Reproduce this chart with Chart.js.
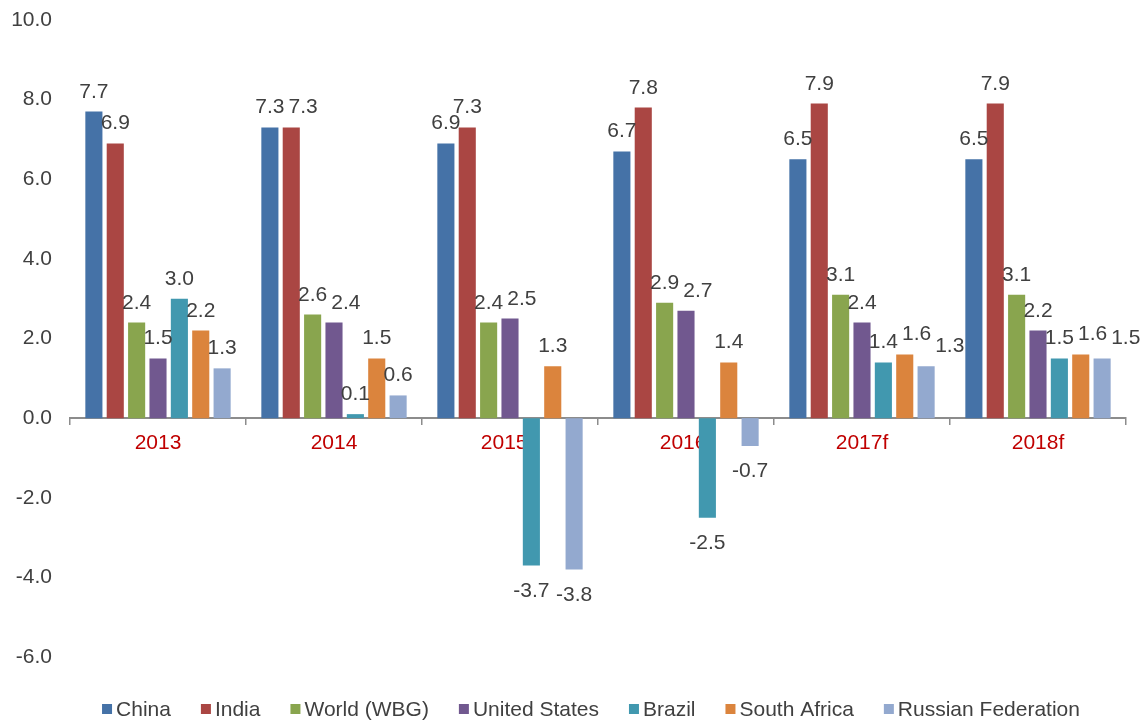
<!DOCTYPE html>
<html>
<head>
<meta charset="utf-8">
<script src="https://cdn.jsdelivr.net/npm/chart.js@4"></script>
<style>
html,body{margin:0;padding:0;background:#fff;}
#wrap{width:1145px;height:721px;position:relative;}
</style>
</head>
<body>
<div id="wrap"><canvas id="c" width="1145" height="721"></canvas></div>
<script>
const categories = ["2013", "2014", "2015e", "2016f", "2017f", "2018f"];
const seriesNames = ["China", "India", "World (WBG)", "United States", "Brazil", "South Africa", "Russian Federation"];
const china = [7.7, 7.3, 6.9, 6.7, 6.5, 6.5];
const india = [6.9, 7.3, 7.3, 7.8, 7.9, 7.9];
const world = [2.4, 2.6, 2.4, 2.9, 3.1, 3.1];
const unitedStates = [1.5, 2.4, 2.5, 2.7, 2.4, 2.2];
const brazil = [3.0, 0.1, -3.7, -2.5, 1.4, 1.5];
const southAfrica = [2.2, 1.5, 1.3, 1.4, 1.6, 1.6];
const russia = [1.25, 0.57, -3.8, -0.7, 1.3, 1.5];
const yTicks = [-6, -4, -2, 0, 2, 4, 6, 8, 10];

const colors = ["#4572A7", "#AA4643", "#89A54E", "#71588F", "#4198AF", "#DB843D", "#93A9CF"];
const values = [china, india, world, unitedStates, brazil, southAfrica, russia];

const FONT = "'Liberation Sans', Arial, sans-serif";
const FSIZE = 21;
const TEXT = "#404040";

const labelPlugin = {
  id: 'valueLabels',
  afterDatasetsDraw(chart) {
    const ctx = chart.ctx;
    ctx.save();
    ctx.font = FSIZE + "px " + FONT;
    ctx.fillStyle = TEXT;
    ctx.textAlign = "center";
    ctx.textBaseline = "alphabetic";
    const cap = FSIZE * 0.72;
    const nCat = chart.data.labels.length;
    for (let j = 0; j < nCat; j++) {
      const placed = [];
      chart.data.datasets.forEach((ds, i) => {
        const bar = chart.getDatasetMeta(i).data[j];
        const v = ds.data[j];
        const txt = v.toFixed(1);
        const w = ctx.measureText(txt).width;
        let x = bar.x;
        const base = v >= 0 ? bar.y - 14 : bar.y + 16 + cap;
        let moved = true, guard = 0;
        while (moved && guard < 20) {
          moved = false; guard++;
          for (const b of placed) {
            const l = x - w / 2, r = x + w / 2, t = base - cap, btm = base;
            if (l < b.r && r > b.l && t < b.b && btm > b.t) {
              x = b.r + 4 + w / 2;
              moved = true;
            }
          }
        }
        placed.push({ l: x - w / 2, r: x + w / 2, t: base - cap, b: base });
        ctx.fillText(txt, x, base);
      });
    }
    ctx.restore();
  }
};

const legendPlugin = {
  id: 'bottomLegend',
  afterDraw(chart) {
    const ctx = chart.ctx;
    ctx.save();
    ctx.font = FSIZE + "px " + FONT;
    ctx.textBaseline = "middle";
    ctx.textAlign = "left";
    const box = 10, gapBox = 4, gapItem = 30;
    const items = chart.data.datasets.map(ds => ({
      label: ds.label, color: ds.backgroundColor, w: ctx.measureText(ds.label).width
    }));
    const total = items.reduce((s, it) => s + box + gapBox + it.w, 0) + gapItem * (items.length - 1);
    const cy = 710;
    let x = 591 - total / 2;
    items.forEach(it => {
      ctx.fillStyle = it.color;
      ctx.fillRect(x, cy - 6, box, box);
      ctx.fillStyle = TEXT;
      ctx.fillText(it.label, x + box + gapBox, cy);
      x += box + gapBox + it.w + gapItem;
    });
    ctx.restore();
  }
};

new Chart(document.getElementById('c'), {
  type: 'bar',
  data: {
    labels: categories,
    datasets: seriesNames.map((n, i) => ({
      label: n,
      data: values[i],
      backgroundColor: colors[i],
      borderWidth: 0,
      barPercentage: 0.8,
      categoryPercentage: 0.85
    }))
  },
  options: {
    responsive: false,
    animation: false,
    devicePixelRatio: 1,
    layout: { padding: { top: 20, right: 19, left: 0, bottom: 64 } },
    plugins: {
      legend: { display: false },
      tooltip: { enabled: false }
    },
    scales: {
      x: {
        position: { y: 0 },
        afterFit(scale) { scale.paddingLeft = 0; scale.paddingRight = 0; scale.paddingTop = 0; scale.paddingBottom = 0; },
        grid: {
          display: true,
          drawOnChartArea: false,
          drawTicks: true,
          tickLength: 6,
          offset: true,
          color: "#8C8C8C",
          lineWidth: 1.5
        },
        border: { display: true, color: "#8C8C8C", width: 2 },
        ticks: {
          color: "#C00000",
          font: { family: FONT, size: FSIZE },
          padding: 6
        }
      },
      y: {
        min: -6,
        max: 10,
        afterBuildTicks(scale) {
          scale.ticks = yTicks.map(v => ({ value: v }));
        },
        afterFit(scale) { scale.width = 70; scale.paddingTop = 0; scale.paddingBottom = 0; },
        grid: { display: false, drawTicks: false },
        border: { display: false },
        ticks: {
          color: TEXT,
          font: { family: FONT, size: FSIZE },
          padding: 18,
          callback: v => Number(v).toFixed(1)
        }
      }
    }
  },
  plugins: [labelPlugin, legendPlugin]
});
</script>
</body>
</html>
